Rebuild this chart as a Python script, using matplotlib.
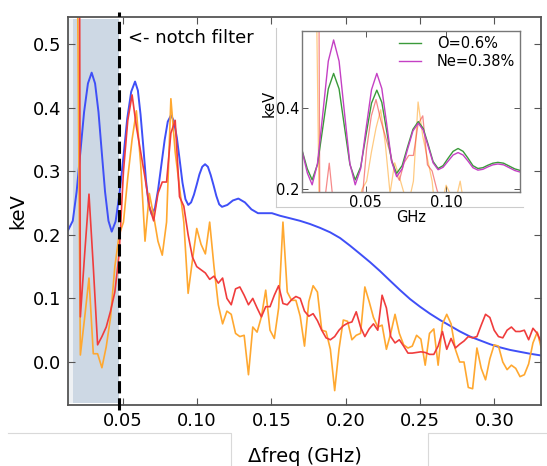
import numpy as np
import matplotlib
matplotlib.use('Agg')
import matplotlib.pyplot as plt
from matplotlib.lines import Line2D

# measured spectra, sampled on a regular frequency grid (GHz)
freq = 0.0128 + 0.0029 * np.arange(112)

nan = np.nan
orange_kev = [
    nan, nan, 0.9, 0.011, 0.07, 0.132, 0.013, 0.013, -0.009, 0.024,
    0.07, 0.15, 0.2, 0.22, 0.29, 0.35, 0.395, 0.31, 0.19, 0.265,
    0.23, 0.19, 0.168, 0.22, 0.414, 0.33, 0.275, 0.22, 0.108, 0.16,
    0.21, 0.185, 0.17, 0.22, 0.15, 0.09, 0.06, 0.08, 0.075, 0.045,
    0.04, 0.042, -0.02, 0.055, 0.047, 0.071, 0.113, 0.05, 0.037, 0.085,
    0.22, 0.11, 0.097, 0.097, 0.072, 0.025, 0.095, 0.12, 0.11, 0.05,
    0.048, 0.02, -0.045, 0.02, 0.066, 0.064, 0.035, 0.042, 0.045, 0.118,
    0.095, 0.07, 0.055, 0.058, 0.02, 0.045, 0.075, 0.045, 0.027, 0.022,
    0.025, 0.042, 0.036, -0.005, 0.045, 0.052, -0.005, 0.06, 0.075, 0.06,
    0.02, 0.0, 0.0, -0.04, -0.042, 0.022, -0.01, -0.028, 0.005, 0.027,
    0.025, 0.0, -0.012, -0.005, -0.01, -0.023, -0.02, -0.003, 0.03, 0.047,
    0.02, 0.03,
]

red_kev = [
    nan, nan, 3.0, 0.071, 0.17, 0.264, 0.15, 0.027, 0.04, 0.055,
    0.08, 0.11, 0.17, 0.3, 0.38, 0.42, 0.37, 0.33, 0.29, 0.245,
    0.222, 0.265, 0.283, 0.283, 0.36, 0.38, 0.26, 0.245, 0.2, 0.165,
    0.15, 0.145, 0.14, 0.13, 0.135, 0.124, 0.132, 0.1, 0.09, 0.115,
    0.118, 0.105, 0.09, 0.1, 0.085, 0.071, 0.087, 0.087, 0.105, 0.12,
    0.092, 0.09, 0.098, 0.103, 0.1, 0.08, 0.072, 0.076, 0.065, 0.05,
    0.038, 0.035, 0.04, 0.05, 0.057, 0.061, 0.063, 0.079, 0.055, 0.04,
    0.052, 0.06, 0.05, 0.105, 0.085, 0.04, 0.03, 0.035, 0.025, 0.014,
    0.014, 0.015, 0.016, 0.015, 0.012, 0.012, 0.025, 0.048, 0.02, 0.037,
    0.022, 0.028, 0.033, 0.04, 0.038, 0.04, 0.058, 0.075, 0.07, 0.05,
    0.04, 0.038, 0.05, 0.055, 0.048, 0.048, 0.05, 0.035, 0.053, 0.045,
    0.03, 0.04,
]

# model curve (blue)
model_freq = [
    0.0132, 0.0164, 0.0190, 0.0215, 0.0240, 0.0266, 0.0291, 0.0314, 0.0337,
    0.0359, 0.0381, 0.0404, 0.0426, 0.0452, 0.0478, 0.0505, 0.0530, 0.0557,
    0.0583, 0.0602, 0.0620, 0.0639, 0.0657, 0.0676, 0.0695, 0.0717, 0.0738,
    0.0760, 0.0782, 0.0803, 0.0825, 0.0844, 0.0864, 0.0883, 0.0902, 0.0922,
    0.0941, 0.0960, 0.0979, 0.0998, 0.1016, 0.1035, 0.1054, 0.1073, 0.1092,
    0.1111, 0.1130, 0.1149, 0.1168, 0.1204, 0.1241, 0.1278, 0.1322, 0.1366,
    0.1410, 0.1457, 0.1504, 0.1558, 0.1626, 0.1693, 0.1760, 0.1827, 0.1895,
    0.1962, 0.2029, 0.2097, 0.2164, 0.2231, 0.2298, 0.2366, 0.2433, 0.2500,
    0.2567, 0.2635, 0.2702, 0.2769, 0.2837, 0.2904, 0.2971, 0.3039, 0.3106,
    0.3173, 0.3241, 0.3322,
]
model_kev = [
    0.207, 0.222, 0.268, 0.330, 0.393, 0.438, 0.455, 0.438, 0.393,
    0.330, 0.268, 0.222, 0.205, 0.221, 0.264, 0.323, 0.382, 0.425,
    0.441, 0.427, 0.389, 0.337, 0.284, 0.246, 0.232, 0.242, 0.271,
    0.310, 0.349, 0.378, 0.388, 0.379, 0.353, 0.318, 0.282, 0.256,
    0.247, 0.251, 0.263, 0.279, 0.295, 0.307, 0.311, 0.307, 0.294,
    0.278, 0.261, 0.248, 0.244, 0.247, 0.254, 0.257, 0.251, 0.240,
    0.234, 0.234, 0.234, 0.230, 0.226, 0.222, 0.217, 0.211, 0.204,
    0.195, 0.183, 0.170, 0.157, 0.143, 0.128, 0.113, 0.099, 0.087,
    0.076, 0.066, 0.057, 0.048, 0.040, 0.034, 0.028, 0.023, 0.019,
    0.016, 0.013, 0.010,
]

# inset model curves
inset_freq = [
    0.0107, 0.0137, 0.0167, 0.0200, 0.0234, 0.0267, 0.0300, 0.0334, 0.0367,
    0.0401, 0.0434, 0.0468, 0.0501, 0.0535, 0.0568, 0.0599, 0.0630, 0.0660,
    0.0691, 0.0725, 0.0758, 0.0792, 0.0825, 0.0856, 0.0887, 0.0917, 0.0948,
    0.0979, 0.1010, 0.1041, 0.1072, 0.1103, 0.1134, 0.1164, 0.1195, 0.1226,
    0.1257, 0.1288, 0.1319, 0.1354, 0.1389, 0.1424, 0.1459,
]
oxygen_kev = [
    0.292, 0.250, 0.223, 0.261, 0.354, 0.446, 0.484, 0.446, 0.354,
    0.261, 0.223, 0.255, 0.333, 0.411, 0.443, 0.413, 0.341, 0.269,
    0.239, 0.258, 0.303, 0.347, 0.366, 0.349, 0.309, 0.268, 0.251,
    0.258, 0.276, 0.293, 0.300, 0.293, 0.276, 0.258, 0.251, 0.253,
    0.259, 0.264, 0.266, 0.264, 0.257, 0.250, 0.246,
]
neon_kev = [
    0.290, 0.240, 0.211, 0.263, 0.389, 0.514, 0.566, 0.514, 0.389,
    0.263, 0.211, 0.251, 0.348, 0.444, 0.484, 0.447, 0.358, 0.268,
    0.231, 0.250, 0.297, 0.343, 0.362, 0.345, 0.305, 0.265, 0.248,
    0.254, 0.269, 0.284, 0.290, 0.284, 0.269, 0.253, 0.247, 0.249,
    0.255, 0.260, 0.262, 0.260, 0.253, 0.246, 0.242,
]
inset_labels = ['O=0.6%', 'Ne=0.38%']

notch_edge = 0.0477
notch_start = 0.0166

C_BLUE = '#3f4ff7'
C_RED = '#f03c3c'
C_ORANGE = '#ffa830'
C_SPINE = '#555555'

fig = plt.figure(figsize=(5.47, 4.66), dpi=100)
ax = fig.add_axes([0.1249, 0.1309, 0.8641, 0.8333])

ax.axvspan(0.0134, notch_start, ymin=0.005, ymax=0.994, color='#eef1f4', lw=0)
ax.axvspan(notch_start, notch_edge, ymin=0.005, ymax=0.994, color='#cdd8e4', lw=0)

ax.plot(model_freq, model_kev, color=C_BLUE, lw=1.4)
ax.plot(freq, orange_kev, color=C_ORANGE, lw=1.2)
ax.plot(freq, red_kev, color=C_RED, lw=1.2)

ax.axvline(notch_edge, ymin=-0.012, ymax=1.012, color='black', ls=(0, (4, 1.6)),
           lw=2.2, clip_on=False, zorder=5)
ax.text(0.0536, 0.509, '<- notch filter', fontsize=13, va='center', ha='left')

ax.set_xlim(0.0134, 0.3314)
ax.set_ylim(-0.0676, 0.543)
ax.set_xticks([0.05, 0.10, 0.15, 0.20, 0.25, 0.30])
ax.set_xticklabels(['0.05', '0.10', '0.15', '0.20', '0.25', '0.30'])
ax.set_yticks([0.0, 0.1, 0.2, 0.3, 0.4, 0.5])
ax.tick_params(direction='in', top=True, right=True, length=5, width=0.8,
               color=C_SPINE, labelsize=13, pad=5)
for s in ax.spines.values():
    s.set_color(C_SPINE)
    s.set_linewidth(1.3)
ax.set_xlabel('Δfreq (GHz)', fontsize=14, labelpad=12)
ax.set_ylabel('keV', fontsize=14, labelpad=4)

# frame of the pasted inset
frame = dict(color='#cccccc', lw=0.8, transform=fig.transFigure)
fig.add_artist(Line2D([0.5046, 0.5046], [0.940, 0.5558], **frame))
fig.add_artist(Line2D([0.5046, 0.956], [0.5558, 0.5558], **frame))
# panel edges at the bottom
edge = dict(color='#d9d9d9', lw=0.8, transform=fig.transFigure)
fig.add_artist(Line2D([0.0146, 0.4223, 0.4223], [0.0702, 0.0702, 0.0], **edge))
fig.add_artist(Line2D([1.0, 0.783, 0.783], [0.0702, 0.0702, 0.0], **edge))

ins = fig.add_axes([0.553, 0.588, 0.3985, 0.3455])
ins.set_facecolor('white')
ins.plot(freq, orange_kev, color=C_ORANGE, lw=0.9, alpha=0.6)
ins.plot(freq, red_kev, color=C_RED, lw=0.9, alpha=0.6)
ins.plot(inset_freq, oxygen_kev, color='#3a9a3a', lw=1.0, label=inset_labels[0])
ins.plot(inset_freq, neon_kev, color='#c440c4', lw=1.0, label=inset_labels[1])
ins.set_xlim(0.0107, 0.1459)
ins.set_ylim(0.1934, 0.588)
ins.set_xticks([0.05, 0.10])
ins.set_xticklabels(['0.05', '0.10'])
ins.set_yticks([0.2, 0.4])
ins.tick_params(direction='in', top=True, right=True, length=4, width=0.7,
                color=C_SPINE, labelsize=10.5, pad=2)
for s in ins.spines.values():
    s.set_color('#777777')
    s.set_linewidth(1.0)
ins.set_xlabel('GHz', fontsize=10.5, labelpad=0)
ins.set_ylabel('keV', fontsize=10.5)
ins.yaxis.set_label_coords(-0.12, 0.55)
ins.legend(loc='upper right', frameon=False, fontsize=10.5, handlelength=1.5,
           handletextpad=1.1, labelspacing=0.2, borderpad=0.25,
           borderaxespad=0.1)

fig.savefig('out.png', dpi=100)
